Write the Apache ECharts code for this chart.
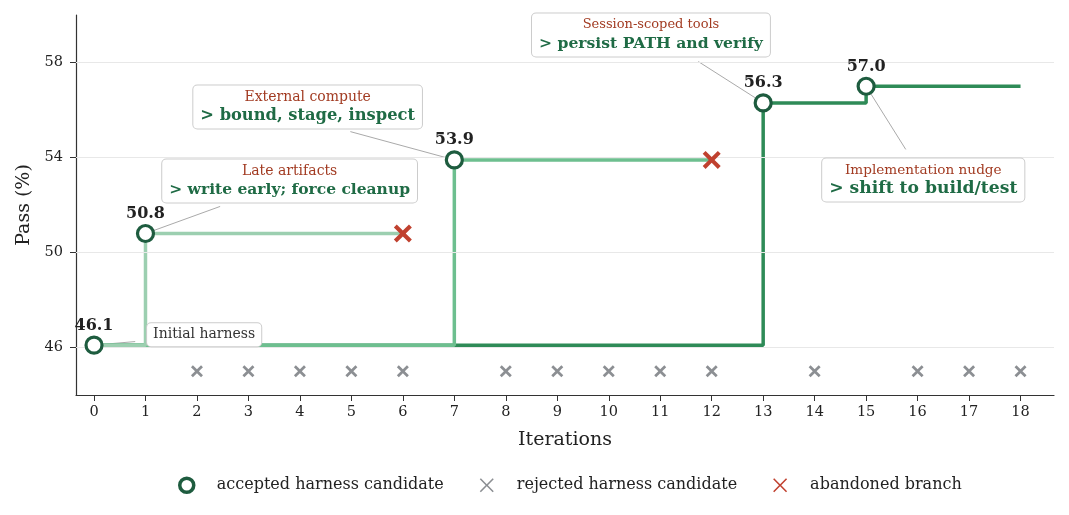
<!DOCTYPE html>
<html>
<head>
<meta charset="utf-8">
<script src="https://cdn.jsdelivr.net/npm/echarts@6/dist/echarts.min.js"></script>
<style>
  html, body { margin: 0; padding: 0; background: #fff; }
  #chart { width: 1069px; height: 515px; }
</style>
</head>
<body>
<div id="chart"></div>
<script>
// data
var xTicks = [0, 1, 2, 3, 4, 5, 6, 7, 8, 9, 10, 11, 12, 13, 14, 15, 16, 17, 18];
var yTicks = [46, 50, 54, 58];

var accepted = [[0, 46.1], [1, 50.8], [7, 53.9], [13, 56.3], [15, 57.0]];
var rejected = [[2, 45], [3, 45], [4, 45], [5, 45], [6, 45], [8, 45], [9, 45],
                [10, 45], [11, 45], [12, 45], [14, 45], [16, 45], [17, 45], [18, 45]];
var abandoned = [[6, 50.8], [12, 53.9]];

// step paths of each branch (all start from the initial harness)
var branchMain = [[0, 46.1], [13, 56.3], [15, 57.0], [18, 57.0]];
var branchCompute = [[0, 46.1], [7, 53.9], [12, 53.9]];
var branchArtifacts = [[0, 46.1], [1, 50.8], [6, 50.8]];

// callout texts
var noteTitles = ['Initial harness', 'Late artifacts', 'External compute', 'Session-scoped tools', 'Implementation nudge'];
var noteFixes = ['', '> write early; force cleanup', '> bound, stage, inspect', '> persist PATH and verify', '> shift to build/test'];

// callout layout (data coords): box centre, leader start/end, font sizes
var noteLayout = [
  { at: [2.14, 46.54], from: [0, 46.1], to: [0.8, 46.25], ts: 14, fs: 0 },
  { at: [3.8, 53.01], from: [1, 50.8], to: [2.45, 51.94], ts: 14, fs: 15.5 },
  { at: [4.15, 56.13], from: [7, 53.9], to: [4.98, 55.09], ts: 14, fs: 16.3 },
  { at: [10.82, 59.16], from: [13, 56.3], to: [11.74, 58.04], ts: 13, fs: 15.6 },
  { at: [16.11, 53.05], from: [15, 57.0], to: [15.77, 54.34], ts: 13.6, fs: 17.2 }
];

var FONT = 'DejaVu Serif';
var xMark = 'path://M1.6,0 L5,3.4 L8.4,0 L10,1.6 L6.6,5 L10,8.4 L8.4,10 L5,6.6 L1.6,10 L0,8.4 L3.4,5 L0,1.6 Z';
var xThin = 'path://M0.8,0 L5,4.2 L9.2,0 L10,0.8 L5.8,5 L10,9.2 L9.2,10 L5,5.8 L0.8,10 L0,9.2 L4.2,5 L0,0.8 Z';

var chart = echarts.init(document.getElementById('chart'));

var series = [];

// leader lines first so markers sit on top
noteLayout.forEach(function (n) {
  series.push({
    type: 'line',
    data: [n.from, n.to],
    symbol: 'none',
    silent: true,
    lineStyle: { color: '#aaaaaa', width: 1 },
    z: 1
  });
});

series.push({
  type: 'line',
  name: 'grid',
  data: [],
  silent: true,
  markLine: {
    symbol: 'none',
    silent: true,
    label: { show: false },
    lineStyle: { color: '#e8e8e8', width: 1, type: 'solid' },
    data: yTicks.map(function (v) { return { yAxis: v }; })
  },
  z: 0
});

series.push({
  type: 'line', step: 'end', data: branchMain, symbol: 'none',
  lineStyle: { color: '#2e8b57', width: 3.5 }, z: 2
});
series.push({
  type: 'line', step: 'end', data: branchCompute, symbol: 'none',
  lineStyle: { color: '#6dbf8f', width: 3.5 }, z: 3
});
series.push({
  type: 'line', step: 'end', data: branchArtifacts, symbol: 'none',
  lineStyle: { color: '#9ccfb0', width: 3.5 }, z: 4
});

series.push({
  type: 'scatter',
  name: 'rejected harness candidate',
  data: rejected,
  symbol: xMark,
  symbolSize: 12,
  itemStyle: { color: '#8c8f93', opacity: 1 },
  z: 5
});
series.push({
  type: 'scatter',
  name: 'abandoned branch',
  data: abandoned,
  symbol: xMark,
  symbolSize: 18,
  itemStyle: { color: '#c0412f', opacity: 1 },
  z: 6
});
series.push({
  type: 'scatter',
  name: 'accepted harness candidate',
  data: accepted,
  symbol: 'circle',
  symbolSize: 16,
  itemStyle: { color: '#ffffff', borderColor: '#1e5c3f', borderWidth: 3.2, opacity: 1 },
  label: {
    show: true,
    position: 'top',
    distance: 2,
    fontFamily: FONT,
    fontWeight: 'bold',
    fontSize: 16,
    color: '#222',
    formatter: function (p) { return p.value[1].toFixed(1); }
  },
  z: 7
});

// callout boxes
series.push({
  type: 'scatter',
  silent: true,
  symbolSize: 1,
  itemStyle: { color: 'rgba(0,0,0,0)', opacity: 1 },
  data: noteLayout.map(function (n, i) {
    var fix = noteFixes[i];
    var txt = fix ? '{t|' + noteTitles[i] + '}\n{f|' + fix + '}' : '{s|' + noteTitles[i] + '}';
    return {
      value: n.at,
      label: {
        show: true,
        position: 'inside',
        formatter: txt,
        backgroundColor: '#ffffff',
        borderColor: '#cccccc',
        borderWidth: 1,
        borderRadius: 4,
        padding: fix ? [3, 7, 3, 7] : [3, 6, 3, 6],
        align: 'center',
        rich: {
          t: { fontFamily: FONT, fontSize: n.ts, color: '#a23b22', align: 'center', lineHeight: 17 },
          f: { fontFamily: FONT, fontSize: n.fs || 15, fontWeight: 'bold', color: '#1f6b45', align: 'center', lineHeight: 20 },
          s: { fontFamily: FONT, fontSize: n.ts, color: '#333', lineHeight: 17 }
        }
      }
    };
  }),
  z: 8
});

var option = {
  animation: false,
  backgroundColor: '#ffffff',
  grid: { left: 76, right: 15, top: 15, bottom: 120 },
  xAxis: {
    type: 'value',
    min: -0.35,
    max: 18.65,
    name: 'Iterations',
    nameLocation: 'middle',
    nameGap: 36,
    nameTextStyle: { fontFamily: FONT, fontSize: 19, color: '#222' },
    axisLine: { show: true, onZero: false, lineStyle: { color: '#333', width: 1.2 } },
    axisTick: { show: true, length: 6, lineStyle: { color: '#333' }, customValues: xTicks },
    axisLabel: { fontFamily: FONT, fontSize: 14.5, color: '#222', margin: 10, customValues: xTicks },
    splitLine: { show: false }
  },
  yAxis: {
    type: 'value',
    min: 44,
    max: 60,
    name: 'Pass (%)',
    nameLocation: 'middle',
    nameGap: 40,
    nameTextStyle: { fontFamily: FONT, fontSize: 19, color: '#222' },
    axisLine: { show: true, onZero: false, lineStyle: { color: '#333', width: 1.2 } },
    axisTick: { show: true, length: 6, lineStyle: { color: '#333' }, customValues: yTicks },
    axisLabel: { fontFamily: FONT, fontSize: 14.5, color: '#222', margin: 13, customValues: yTicks },
    splitLine: { show: false }
  },
  legend: {
    bottom: 16,
    left: 173,
    itemGap: 36,
    itemWidth: 14,
    itemHeight: 14,
    data: [
      { name: 'accepted harness candidate', icon: 'circle',
        itemStyle: { color: '#ffffff', borderColor: '#1e5c3f', borderWidth: 3.5 } },
      { name: 'rejected harness candidate', icon: xThin, itemStyle: { color: '#8c8f93' } },
      { name: 'abandoned branch', icon: xThin, itemStyle: { color: '#c0412f' } }
    ],
    textStyle: { fontFamily: FONT, fontSize: 16, color: '#222', padding: [0, 0, 0, 18] }
  },
  series: series
};

chart.setOption(option);
</script>
</body>
</html>
